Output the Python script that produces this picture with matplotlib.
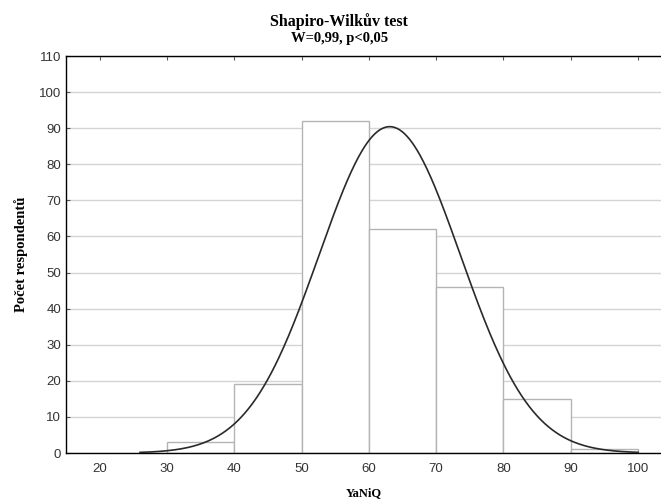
import numpy as np
import matplotlib.pyplot as plt

# histogram bins (YaNiQ score) and counts
bin_edges = [30, 40, 50, 60, 70, 80, 90, 100]
counts = [3, 19, 92, 62, 46, 15, 1]

# fitted normal curve parameters
mean_fit = 63.1
sd_fit = 10.5
curve_range = (26, 100)

x_ticks = [20, 30, 40, 50, 60, 70, 80, 90, 100]
y_ticks = list(range(0, 111, 10))

serif = "Liberation Serif"
sans = "Liberation Sans"

fig = plt.figure(figsize=(6.61, 5.01), dpi=100)
ax = fig.add_axes([0.0998, 0.0958, 0.9002, 0.7924])

ax.grid(axis="y", color="#d4d4d4", linewidth=1.0)
ax.set_axisbelow(True)

widths = np.diff(bin_edges)
ax.bar(bin_edges[:-1], counts, width=widths, align="edge",
       facecolor="white", edgecolor="#b4b4b4", linewidth=1.0, zorder=2)

n = sum(counts)
xs = np.linspace(curve_range[0], curve_range[1], 400)
ys = n * 10 / (sd_fit * np.sqrt(2 * np.pi)) * np.exp(-0.5 * ((xs - mean_fit) / sd_fit) ** 2)
ax.plot(xs, ys, color="#2a2a2a", linewidth=1.2, zorder=3)

ax.set_xlim(15, 103.4)
ax.set_ylim(0, 110)
ax.set_xticks(x_ticks)
ax.set_yticks(y_ticks)
ax.tick_params(axis="both", direction="in", length=3, color="#555555",
               labelsize=9.5, labelcolor="#333333")
ax.tick_params(axis="x", top=True, bottom=False, pad=7)
for lab in ax.get_xticklabels() + ax.get_yticklabels():
    lab.set_fontfamily(sans)

for side in ["left", "bottom", "top"]:
    ax.spines[side].set_color("black")
    ax.spines[side].set_linewidth(1.0)
ax.spines["right"].set_visible(False)

ax.set_xlabel("YaNiQ", fontfamily=serif, fontweight="bold", fontsize=9, labelpad=9)
ax.set_ylabel("Počet respondentů", fontfamily=serif, fontweight="bold", fontsize=10.5, labelpad=8)

fig.text(0.513, 0.956, "Shapiro-Wilkův test", ha="center", va="center",
         fontfamily=serif, fontweight="bold", fontsize=11.5)
fig.text(0.513, 0.923, "W=0,99, p<0,05", ha="center", va="center",
         fontfamily=serif, fontweight="bold", fontsize=10.5)

fig.savefig("out.png", dpi=100)
